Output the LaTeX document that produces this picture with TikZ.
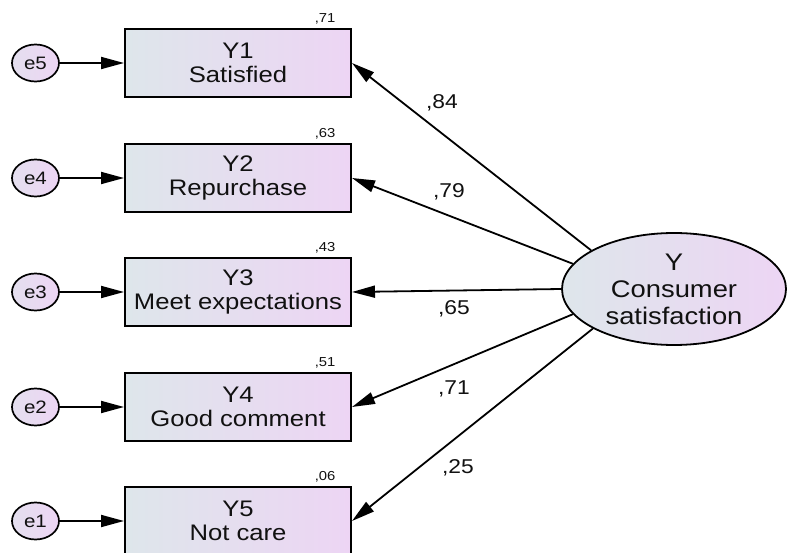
\documentclass[tikz,border=0pt]{standalone}
\usepackage{fontspec}
\setmainfont{Liberation Sans}[FakeStretch=1.14]
\usetikzlibrary{arrows.meta,shapes.geometric}

\definecolor{shadeL}{HTML}{DEE6EB}
\definecolor{shadeR}{HTML}{EDD5F4}
\definecolor{inkc}{HTML}{111111}

\begin{document}
\begin{tikzpicture}[x=1pt,y=-1pt,
  obsbox/.style={draw=black, line width=2pt, left color=shadeL, right color=shadeR,
    minimum width=226pt, minimum height=68pt, inner sep=0pt, align=center,
    text=inkc, font=\fontsize{22.5}{24}\selectfont},
  errnode/.style={ellipse, draw=black, line width=1.7pt, left color=shadeL!60!shadeR, right color=shadeR,
    minimum width=47pt, minimum height=37pt, inner sep=0pt, text=inkc,
    font=\fontsize{18}{20}\selectfont},
  latnode/.style={ellipse, draw=black, line width=1.8pt, left color=shadeL, right color=shadeR,
    minimum width=224pt, minimum height=112pt, inner sep=0pt, align=center,
    text=inkc, font=\fontsize{24}{27}\selectfont},
  loadarrow/.style={line width=1.8pt, -{Triangle[length=23pt,width=12pt]}},
  loadlabel/.style={text=inkc, font=\fontsize{20}{22}\selectfont},
  rsqlabel/.style={text=inkc, anchor=east, font=\fontsize{13}{15}\selectfont}
]
\useasboundingbox (0,0) rectangle (790,553);
\fill[white] (0,0) rectangle (790,553);
\clip (0,0) rectangle (790,553);

% observed indicators
\node[obsbox] (y1) at (238,63)  {Y1\\Satisfied};
\node[obsbox] (y2) at (238,178) {Y2\\Repurchase};
\node[obsbox] (y3) at (238,292) {Y3\\Meet expectations};
\node[obsbox] (y4) at (238,407) {Y4\\Good comment};
\node[obsbox] (y5) at (238,521) {Y5\\Not care};

% squared multiple correlations
\node[rsqlabel] (r1) at (339,19)  {,71};
\node[rsqlabel] (r2) at (339,134) {,63};
\node[rsqlabel] (r3) at (339,248) {,43};
\node[rsqlabel] (r4) at (339,363) {,51};
\node[rsqlabel] (r5) at (339,477) {,06};

% error terms
\node[errnode] (e5) at (35.5,63)  {e5};
\node[errnode] (e4) at (35.5,178) {e4};
\node[errnode] (e3) at (35.5,292) {e3};
\node[errnode] (e2) at (35.5,407) {e2};
\node[errnode] (e1) at (35.5,521) {e1};

\draw[loadarrow] (e5) -- (y1);
\draw[loadarrow] (e4) -- (y2);
\draw[loadarrow] (e3) -- (y3);
\draw[loadarrow] (e2) -- (y4);
\draw[loadarrow] (e1) -- (y5);

% latent factor
\node[latnode] (Y) at (674,289) {Y\\Consumer\\satisfaction};

\draw[loadarrow] (Y.155.9) -- (y1.east);
\draw[loadarrow] (Y.166.2) -- (y2.east);
\draw[loadarrow] (Y.west)  -- (y3.east);
\draw[loadarrow] (Y.194.8) -- (y4.east);
\draw[loadarrow] (Y.206.3) -- (y5.east);

% standardized loadings
\node[loadlabel] (l1) at (442,103) {,84};
\node[loadlabel] (l2) at (449,192) {,79};
\node[loadlabel] (l3) at (454,309) {,65};
\node[loadlabel] (l4) at (454,389) {,71};
\node[loadlabel] (l5) at (458,468) {,25};
\end{tikzpicture}
\end{document}
